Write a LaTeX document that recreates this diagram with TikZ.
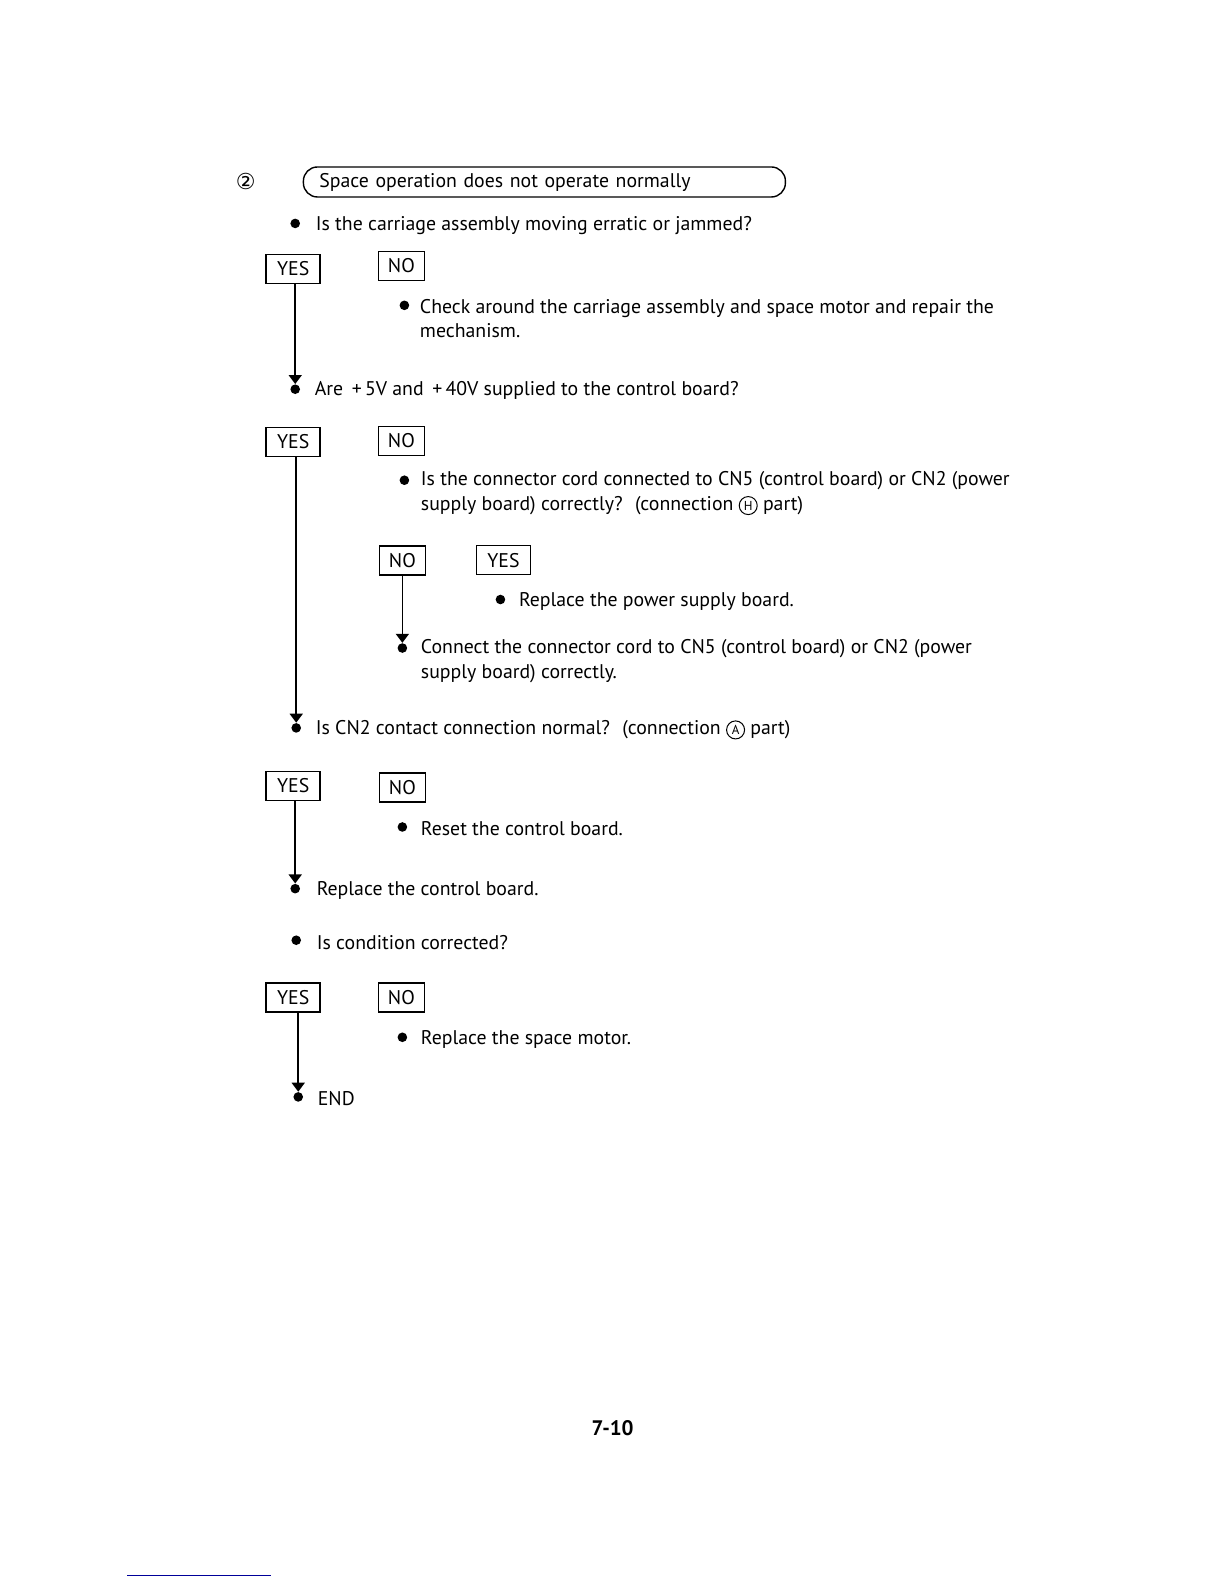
\documentclass[tikz,border=0pt]{standalone}
\usepackage{fontspec}
\setmainfont{PT Sans}
\newfontfamily\symfont{DejaVu Sans}
\usetikzlibrary{arrows.meta}
\newcommand{\circled}[1]{{\symfont\fontsize{11}{12}\selectfont #1}}
\newcommand{\ringed}[1]{\tikz[baseline=(r.base)]\node[draw,circle,line width=0.5pt,inner sep=0.4pt,minimum size=9pt,font=\fontsize{6.5}{7}\selectfont] (r) {#1};}

\begin{document}
\begin{tikzpicture}[%
  x=0.5055pt,y=-0.5055pt,%
  txt/.style={anchor=west,inner sep=0pt,align=left,yshift=-1pt,font=\fontsize{9.9}{12.2}\selectfont},%
  answer/.style={draw,line width=0.7pt,inner sep=0pt,minimum height=14.5pt,font=\fontsize{9.9}{12}\selectfont},%
  yesbox/.style={answer,minimum width=27pt},%
  nobox/.style={answer,minimum width=23pt},%
  dot/.style={circle,fill,inner sep=0pt,minimum size=4.8pt},%
  flow/.style={line width=0.8pt,-{Triangle[length=4.5pt,width=6.5pt]}}%
]
\useasboundingbox (0,0) rectangle (1210.7,1566.8);
%
% Heading of the chart.
\node[inner sep=0pt] (num) at (243,180) {\circled{②}};
\node[draw,line width=0.7pt,rounded corners=7pt,minimum height=15pt,
  text width=225pt,inner xsep=8pt,inner ysep=0pt,align=left,
  font=\fontsize{9.9}{12}\selectfont] (title) at (538.5,180)
  {Space operation does not operate normally};
%
% First question.
\node[dot] (d1) at (292,221) {};
\node[txt] (q1) at (312,221) {Is the carriage assembly moving erratic or jammed?};
\node[yesbox] (yes1) at (290,266) {YES};
\node[nobox] (no1) at (397,263) {NO};
\node[dot] (d1n) at (400,302) {};
\node[txt] (a1) at (415,313) {Check around the carriage assembly and space motor and repair the\\mechanism.};
%
% Second question.
\node[dot] (d2) at (292,385) {};
\node[txt] (q2) at (311,384) {Are \,+\,5V and \,+\,40V supplied to the control board?};
\draw[flow] (yes1.south -| d2.north) -- (d2.north);
\node[yesbox] (yes2) at (290,437) {YES};
\node[nobox] (no2) at (397,436) {NO};
\node[dot] (d2n) at (400,475) {};
\node[txt] (a2) at (416,486) {Is the connector cord connected to CN5 (control board) or CN2 (power\\supply board) correctly? \ (connection \ringed{H} part)};
\node[nobox] (no3) at (398,554.5) {NO};
\node[yesbox] (yes3) at (498,554) {YES};
\node[dot] (d3y) at (495,593) {};
\node[txt] (a3) at (513,593) {Replace the power supply board.};
\node[dot] (d3n) at (398,641) {};
\node[txt] (a4) at (416,652) {Connect the connector cord to CN5 (control board) or CN2 (power\\supply board) correctly.};
\draw[flow] (no3.south -| d3n.north) -- (d3n.north);
%
% Third question.
\node[dot] (d4) at (293,720) {};
\node[txt] (q3) at (312,720) {Is CN2 contact connection normal? \ (connection \ringed{A} part)};
\draw[flow] (yes2.south -| d4.north) -- (d4.north);
\node[yesbox] (yes4) at (290,777.5) {YES};
\node[nobox] (no4) at (398,779) {NO};
\node[dot] (d4n) at (398,818) {};
\node[txt] (a5) at (416,818) {Reset the control board.};
\node[dot] (d5) at (292,879) {};
\node[txt] (a6) at (313,879) {Replace the control board.};
\draw[flow] (yes4.south -| d5.north) -- (d5.north);
%
% Last question.
\node[dot] (d6) at (293,930) {};
\node[txt] (q4) at (313,930) {Is condition corrected?};
\node[yesbox] (yes5) at (290,986.5) {YES};
\node[nobox] (no5) at (397,986.5) {NO};
\node[dot] (d6n) at (398,1026) {};
\node[txt] (a7) at (416,1026) {Replace the space motor.};
\node[dot] (d7) at (295,1085) {};
\node[txt] (fin) at (314,1085) {END};
\draw[flow] (yes5.south -| d7.north) -- (d7.north);
%
% Page number.
\node[inner sep=0pt,font=\bfseries\fontsize{10.5}{12}\selectfont] (page) at (606,1413) {7-10};
\draw[blue!60!black,line width=0.6pt] (126,1558) -- (268,1558);
\end{tikzpicture}
\end{document}
